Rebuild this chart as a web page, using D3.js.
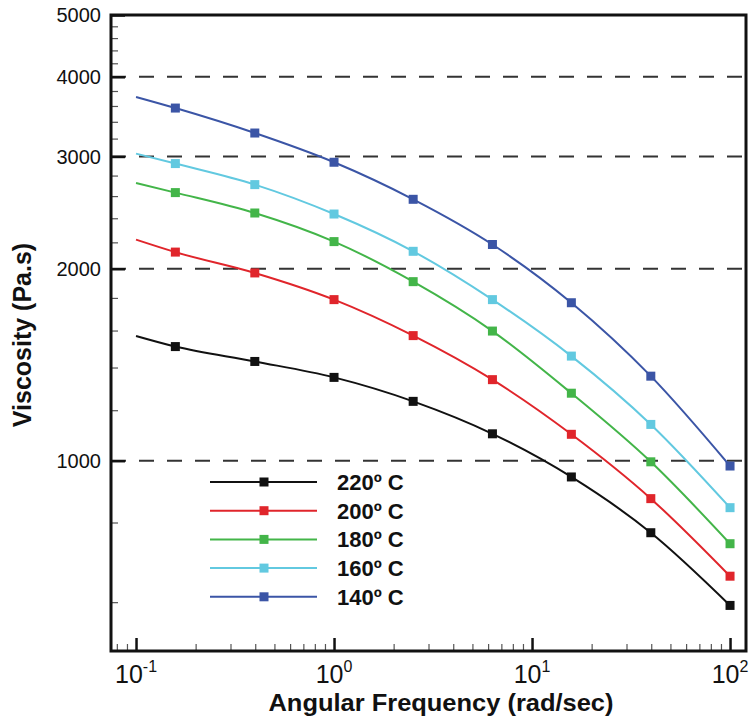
<!DOCTYPE html>
<html>
<head>
<meta charset="utf-8">
<script src="https://cdn.jsdelivr.net/npm/d3@7"></script>
<style>
  body { margin: 0; background: #fff; }
  text { font-family: "Liberation Sans", Arial, sans-serif; fill: #111; }
</style>
</head>
<body>
<div class="chart"></div>
<script>
// data
var freq = [0.1, 0.158, 0.398, 1, 2.51, 6.31, 15.8, 39.8, 100];
var seriesNames = ["220º C", "200º C", "180º C", "160º C", "140º C"];
var seriesColors = ["#111111", "#e0252b", "#43b549", "#62c9e0", "#3b55a6"];
var visc220 = [1569, 1510, 1431, 1351, 1239, 1102, 943, 771, 593];
var visc200 = [2222, 2124, 1970, 1789, 1571, 1340, 1100, 872, 659];
var visc180 = [2726, 2633, 2446, 2206, 1909, 1597, 1276, 996, 741];
var visc160 = [3031, 2924, 2710, 2437, 2130, 1789, 1459, 1140, 844];
var visc140 = [3719, 3573, 3265, 2938, 2570, 2183, 1769, 1357, 981];
var seriesValues = [visc220, visc200, visc180, visc160, visc140];

var yMajor = [1000, 2000, 3000, 4000, 5000];
var yMinor = [600, 800, 1200, 1400, 1600, 1800, 2200, 2400, 2600, 2800,
              3200, 3400, 3600, 3800, 4200, 4400, 4600, 4800];
var gridValues = [1000, 2000, 3000, 4000];
var xMajor = [0.1, 1, 10, 100];
var xExp = ["-1", "0", "1", "2"];

var svgWidth = 750;
var svgHeight = 716;
var margin = { top: 15, right: 4, bottom: 65, left: 111 };
var width = svgWidth - margin.left - margin.right;
var height = svgHeight - margin.top - margin.bottom;

var svg = d3.select(".chart")
  .append("svg")
  .attr("width", svgWidth)
  .attr("height", svgHeight);

var chartGroup = svg.append("g")
  .attr("transform", `translate(${margin.left}, ${margin.top})`);

// scales (log on both axes)
var xScale = d3.scaleLog()
  .domain([0.07475, 120.4])
  .range([0, width]);

var yScale = d3.scaleLog()
  .domain([503, 5000])
  .range([height, 0]);

// x minor ticks: 2..9 of each decade inside the domain
var xMinor = [];
[0.01, 0.1, 1, 10].forEach(function(dec) {
  for (var k = 2; k <= 9; k++) {
    var v = dec * k;
    if (v > xScale.domain()[0] && v < xScale.domain()[1]) xMinor.push(v);
  }
});

// dashed grid
chartGroup.selectAll(".grid")
  .data(gridValues)
  .enter()
  .append("line")
  .attr("x1", 0)
  .attr("x2", width)
  .attr("y1", d => yScale(d))
  .attr("y2", d => yScale(d))
  .attr("stroke", "#333")
  .attr("stroke-width", 2)
  .attr("stroke-dasharray", "15,13");

// y axis, ticks pointing inward
var leftMajor = d3.axisRight(yScale)
  .tickValues(yMajor)
  .tickSize(14)
  .tickFormat("");
var leftMinor = d3.axisRight(yScale)
  .tickValues(yMinor)
  .tickSize(7)
  .tickFormat("");

chartGroup.append("g").call(leftMajor)
  .call(g => g.select(".domain").remove())
  .selectAll("line").attr("stroke", "#111").attr("stroke-width", 2.5);
chartGroup.append("g").call(leftMinor)
  .call(g => g.select(".domain").remove())
  .selectAll("line").attr("stroke", "#555").attr("stroke-width", 1.2);

// x axis, ticks pointing inward
var bottomMajor = d3.axisTop(xScale)
  .tickValues(xMajor)
  .tickSize(13)
  .tickFormat("");
var bottomMinor = d3.axisTop(xScale)
  .tickValues(xMinor)
  .tickSize(7)
  .tickFormat("");

chartGroup.append("g")
  .attr("transform", `translate(0, ${height})`)
  .call(bottomMajor)
  .call(g => g.select(".domain").remove())
  .selectAll("line").attr("stroke", "#111").attr("stroke-width", 2.5);
chartGroup.append("g")
  .attr("transform", `translate(0, ${height})`)
  .call(bottomMinor)
  .call(g => g.select(".domain").remove())
  .selectAll("line").attr("stroke", "#555").attr("stroke-width", 1.2);

// y tick labels
chartGroup.selectAll(".ylab")
  .data(yMajor)
  .enter()
  .append("text")
  .attr("x", -10)
  .attr("y", d => yScale(d))
  .attr("dy", "0.36em")
  .attr("text-anchor", "end")
  .style("font-size", "20px")
  .text(d => d);

// x tick labels, 10 with exponent
var xLabels = chartGroup.selectAll(".xlab")
  .data(xMajor)
  .enter()
  .append("text")
  .attr("x", d => xScale(d))
  .attr("y", height + 32)
  .attr("text-anchor", "middle")
  .style("font-size", "25px");
xLabels.append("tspan").text("10");
xLabels.append("tspan")
  .attr("dy", -11)
  .style("font-size", "16px")
  .text((d, i) => xExp[i]);

// series lines and markers
var line = d3.line()
  .x((d, i) => xScale(freq[i]))
  .y(d => yScale(d))
  .curve(d3.curveMonotoneX);

seriesValues.forEach(function(vals, s) {
  chartGroup.append("path")
    .datum(vals)
    .attr("fill", "none")
    .attr("stroke", seriesColors[s])
    .attr("stroke-width", 2)
    .attr("d", line);

  // no marker at the first point
  chartGroup.selectAll(".m" + s)
    .data(vals.slice(1))
    .enter()
    .append("rect")
    .attr("x", (d, i) => xScale(freq[i + 1]) - 4.5)
    .attr("y", d => yScale(d) - 4.5)
    .attr("width", 9)
    .attr("height", 9)
    .attr("fill", seriesColors[s]);
});

// frame
chartGroup.append("rect")
  .attr("x", 0)
  .attr("y", 0)
  .attr("width", width)
  .attr("height", height)
  .attr("fill", "none")
  .attr("stroke", "#111")
  .attr("stroke-width", 3);

// legend
var legend = svg.append("g")
  .attr("transform", "translate(210, 482)");

var rows = legend.selectAll("g")
  .data(seriesNames)
  .enter()
  .append("g")
  .attr("transform", (d, i) => `translate(0, ${i * 28.7})`);

rows.append("line")
  .attr("x1", 0)
  .attr("x2", 107)
  .attr("stroke", (d, i) => seriesColors[i])
  .attr("stroke-width", 2);
rows.append("rect")
  .attr("x", 49.5)
  .attr("y", -4.5)
  .attr("width", 9)
  .attr("height", 9)
  .attr("fill", (d, i) => seriesColors[i]);
rows.append("text")
  .attr("x", 127)
  .attr("dy", "0.36em")
  .style("font-size", "22px")
  .style("font-weight", "bold")
  .text(d => d);

// axis titles
svg.append("text")
  .attr("x", 441)
  .attr("y", 711)
  .attr("text-anchor", "middle")
  .attr("textLength", 345)
  .attr("lengthAdjust", "spacingAndGlyphs")
  .style("font-size", "24px")
  .style("font-weight", "bold")
  .text("Angular Frequency (rad/sec)");

svg.append("text")
  .attr("transform", "translate(31, 335) rotate(-90)")
  .attr("text-anchor", "middle")
  .style("font-size", "25px")
  .style("font-weight", "bold")
  .text("Viscosity (Pa.s)");
</script>
</body>
</html>
